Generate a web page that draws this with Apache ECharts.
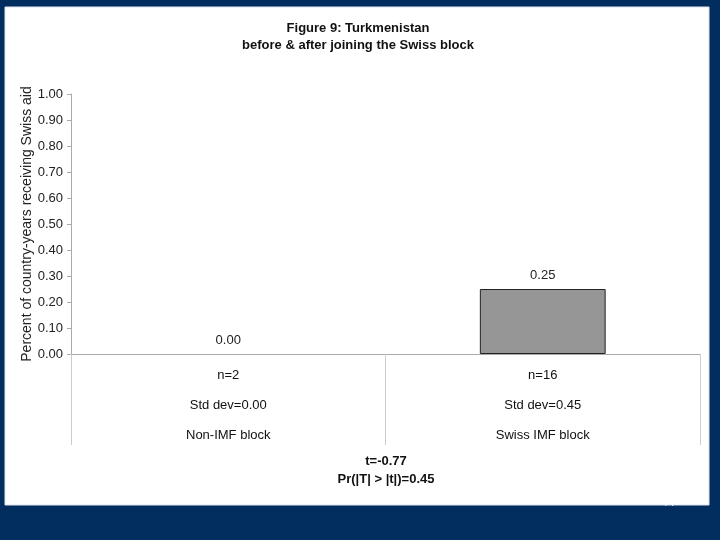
<!DOCTYPE html>
<html>
<head>
<meta charset="utf-8">
<script src="https://cdn.jsdelivr.net/npm/echarts@6/dist/echarts.min.js"></script>
<style>html,body{margin:0;padding:0;background:#022d5f;}#c{width:720px;height:540px;}</style>
</head>
<body>
<div id="c"></div>
<script>
const categories = ['Non-IMF block', 'Swiss IMF block'];
const values = [0.00, 0.25];
const nLabels = ['n=2', 'n=16'];
const sdLabels = ['Std dev=0.00', 'Std dev=0.45'];
const titleLines = ['Figure 9: Turkmenistan', 'before & after joining the Swiss block'];
const statLines = ['t=-0.77', 'Pr(|T| > |t|)=0.45'];
const yAxisTitle = 'Percent of country-years receiving Swiss aid';
const pageNumber = '44';

const chart = echarts.init(document.getElementById('c'));
const narrow = "'Liberation Sans Narrow', 'Arial Narrow', 'Liberation Sans', Arial, sans-serif";
const sans = "'Liberation Sans', Arial, sans-serif";

chart.setOption({
  backgroundColor: '#022d5f',
  animation: false,
  graphic: [
    { type: 'text', z: -20, x: 668, y: 497,
      style: { text: pageNumber, font: "12px " + sans, fill: '#ffffff', align: 'center', verticalAlign: 'top' } },
    { type: 'rect', z: -10, shape: { x: 5, y: 7, width: 704, height: 498 },
      style: { fill: '#ffffff', stroke: '#dfe6ee', lineWidth: 1 } },
    { type: 'text', z: 10, x: 358, y: 28,
      style: { text: titleLines[0], font: "bold 13px " + narrow, fill: '#111', align: 'center', verticalAlign: 'middle' } },
    { type: 'text', z: 10, x: 358, y: 45,
      style: { text: titleLines[1], font: "bold 13px " + narrow, fill: '#111', align: 'center', verticalAlign: 'middle' } },
    { type: 'text', z: 10, x: 386, y: 461,
      style: { text: statLines[0], font: "bold 13px " + narrow, fill: '#111', align: 'center', verticalAlign: 'middle' } },
    { type: 'text', z: 10, x: 386, y: 479,
      style: { text: statLines[1], font: "bold 13px " + narrow, fill: '#111', align: 'center', verticalAlign: 'middle' } }
  ],
  grid: { left: 71, right: 20, top: 94, bottom: 186 },
  xAxis: {
    type: 'category',
    data: categories,
    axisLine: { lineStyle: { color: '#aaaaaa', width: 1 } },
    axisTick: { show: true, length: 91, lineStyle: { color: '#cccccc', width: 1 } },
    axisLabel: {
      margin: 6,
      interval: 0,
      formatter: function (v, i) {
        return '{a|' + nLabels[i] + '}\n{a|' + sdLabels[i] + '}\n{a|' + v + '}';
      },
      rich: { a: { fontFamily: narrow, fontSize: 13, lineHeight: 30, color: '#111' } }
    },
    splitLine: { show: false }
  },
  yAxis: {
    type: 'value',
    min: 0, max: 1, interval: 0.1,
    name: yAxisTitle,
    nameLocation: 'middle',
    nameGap: 37,
    nameMoveOverlap: false,
    nameTextStyle: { fontFamily: sans, fontSize: 14, color: '#222' },
    axisLine: { show: true, lineStyle: { color: '#aaaaaa' } },
    axisTick: { show: true, length: 4, lineStyle: { color: '#aaaaaa' } },
    axisLabel: { margin: 8, fontFamily: sans, fontSize: 13, color: '#222',
      formatter: function (v) { return v.toFixed(2); } },
    splitLine: { show: false }
  },
  series: [{
    type: 'bar',
    data: values.map(function (v) {
      return { value: v, itemStyle: v === 0 ? { borderWidth: 0 } : {} };
    }),
    barWidth: '40%',
    itemStyle: { color: '#969696', borderColor: '#222222', borderWidth: 1 },
    label: { show: true, position: 'top', distance: 7, fontFamily: sans, fontSize: 13, color: '#222',
      formatter: function (p) { return p.value.toFixed(2); } }
  }]
});
</script>
</body>
</html>
